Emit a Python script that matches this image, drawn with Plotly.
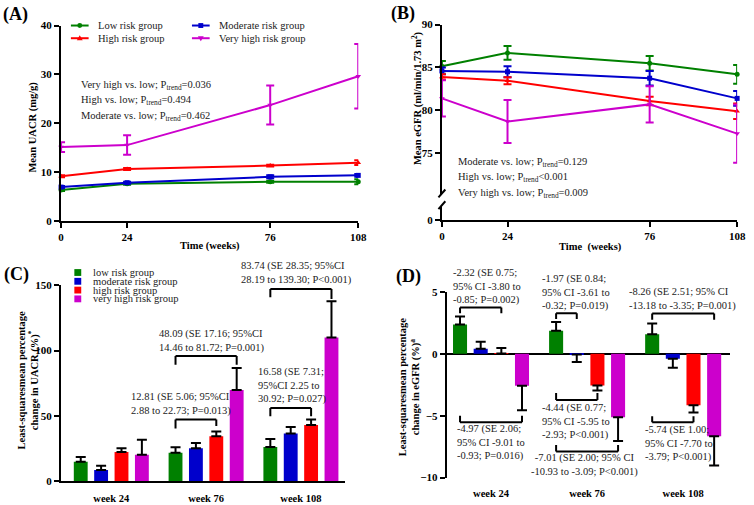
import plotly.graph_objects as go

W, H = 754, 505
FONT = "Liberation Serif"

# ---------------- data ----------------
weeks = [0, 24, 76, 108]
group_names = ["Low risk group", "Moderate risk group", "High risk group", "Very high risk group"]
group_names_lc = ["low risk group", "moderate risk group", "high risk group", "very high risk group"]
colors = ["#008000", "#0000cc", "#ff0000", "#cc00cc"]
symbols = ["circle", "square", "triangle-up", "triangle-down"]

# Panel A: mean UACR (mg/g)
uacr_low = [6.3, 7.6, 8.0, 8.0]
uacr_mod = [6.9, 7.8, 9.0, 9.3]
uacr_high = [9.1, 10.6, 11.3, 11.9]
uacr_vhigh = [15.1, 15.5, 23.7, 29.6]
uacr_low_err = [0.2, 0.2, 0.2, 0.5]
uacr_mod_err = [0.2, 0.2, 0.3, 0.3]
uacr_high_err = [0.2, 0.2, 0.2, 0.5]
uacr_vhigh_err = [1.0, 2.0, 4.0, 6.6]

# Panel B: mean eGFR
egfr_low = [85.15, 86.7, 85.5, 84.2]
egfr_mod = [84.6, 84.5, 83.75, 81.4]
egfr_high = [83.9, 83.45, 81.1, 79.9]
egfr_vhigh = [81.4, 78.7, 80.7, 77.3]
egfr_low_err = [0.6, 0.8, 0.85, 1.1]
egfr_mod_err = [0.4, 0.65, 0.85, 0.85]
egfr_high_err = [0.3, 0.4, 0.5, 0.9]
egfr_vhigh_err = [2.1, 2.5, 2.1, 3.4]

# Panel C: LS mean % change in UACR
visits = ["week 24", "week 76", "week 108"]
duacr_low = [15.0, 21.9, 26.4]
duacr_mod = [8.7, 25.4, 36.6]
duacr_high = [22.4, 34.6, 43.1]
duacr_vhigh = [20.4, 69.8, 110.1]
duacr_low_err = [3.7, 4.3, 6.0]
duacr_mod_err = [3.3, 4.0, 5.0]
duacr_high_err = [3.0, 3.5, 4.2]
duacr_vhigh_err = [11.5, 16.9, 27.7]

# Panel D: LS mean % change in eGFR
degfr_low = [2.37, 1.87, 1.58]
degfr_mod = [0.42, -0.05, -0.39]
degfr_high = [0.03, -2.55, -4.16]
degfr_vhigh = [-2.58, -5.13, -6.66]
degfr_low_err = [0.66, 0.71, 0.87]
degfr_mod_err = [0.55, 0.61, 0.74]
degfr_high_err = [0.45, 0.42, 0.58]
degfr_vhigh_err = [1.97, 1.92, 2.37]

# comparison labels
A_texts = ["Very high vs. low; P<sub>trend</sub>=0.036",
           "High vs. low; P<sub>trend</sub>=0.494",
           "Moderate vs. low; P<sub>trend</sub>=0.462"]
B_texts = ["Moderate vs. low; P<sub>trend</sub>=0.129",
           "High vs. low; P<sub>trend</sub><0.001",
           "Very high vs. low; P<sub>trend</sub>=0.009"]

# ---------------- helpers ----------------
def px(x):
    return x / W

def py(y):
    return 1 - y / H

BARGAP = 0.14
NG = 4
SLOT = (1 - BARGAP) / NG

def barx(cat, i):
    return cat + (i - (NG - 1) / 2) * SLOT

fig = go.Figure()

# ---------------- Panel A ----------------
A_series = [(uacr_low, uacr_low_err), (uacr_mod, uacr_mod_err),
            (uacr_high, uacr_high_err), (uacr_vhigh, uacr_vhigh_err)]
for k, (vals, err) in enumerate(A_series):
    fig.add_trace(go.Scatter(
        x=weeks, y=vals, mode="lines+markers", xaxis="x", yaxis="y",
        line=dict(color=colors[k], width=2),
        marker=dict(color=colors[k], size=5, symbol=symbols[k]),
        error_y=dict(type="data", array=err, color=colors[k], thickness=2, width=4),
        cliponaxis=False, showlegend=False, name=group_names[k]))

# ---------------- Panel B ----------------
B_series = [(egfr_low, egfr_low_err), (egfr_mod, egfr_mod_err),
            (egfr_high, egfr_high_err), (egfr_vhigh, egfr_vhigh_err)]
for k, (vals, err) in enumerate(B_series):
    fig.add_trace(go.Scatter(
        x=weeks, y=vals, mode="lines+markers", xaxis="x2", yaxis="y2",
        line=dict(color=colors[k], width=2),
        marker=dict(color=colors[k], size=5, symbol=symbols[k]),
        error_y=dict(type="data", array=err, color=colors[k], thickness=2, width=4),
        cliponaxis=False, showlegend=False, name=group_names[k]))
fig.add_trace(go.Scatter(x=[], y=[], xaxis="x2", yaxis="y3", showlegend=False))

# ---------------- Panel C ----------------
C_series = [(duacr_low, duacr_low_err), (duacr_mod, duacr_mod_err),
            (duacr_high, duacr_high_err), (duacr_vhigh, duacr_vhigh_err)]
for k, (vals, err) in enumerate(C_series):
    fig.add_trace(go.Bar(
        x=visits, y=vals, xaxis="x3", yaxis="y4",
        marker=dict(color=colors[k], line=dict(width=0)),
        error_y=dict(type="data", symmetric=False, array=err, arrayminus=[0] * len(err),
                     color="black", thickness=2, width=5),
        showlegend=False, name=group_names_lc[k]))

# ---------------- Panel D ----------------
D_series = [(degfr_low, degfr_low_err), (degfr_mod, degfr_mod_err),
            (degfr_high, degfr_high_err), (degfr_vhigh, degfr_vhigh_err)]
for k, (vals, err) in enumerate(D_series):
    up = [e if v >= 0 else 0 for v, e in zip(vals, err)]
    dn = [e if v < 0 else 0 for v, e in zip(vals, err)]
    fig.add_trace(go.Bar(
        x=visits, y=vals, xaxis="x4", yaxis="y5",
        marker=dict(color=colors[k], line=dict(width=0)),
        error_y=dict(type="data", symmetric=False, array=up, arrayminus=dn,
                     color="black", thickness=2, width=5),
        showlegend=False, name=group_names_lc[k]))

# ---------------- axes ----------------
tickfont = dict(family=FONT, size=11, color="black", weight="bold")
common = dict(showline=True, linewidth=2, linecolor="black", ticks="outside",
              ticklen=5, tickwidth=2, tickcolor="black", showgrid=False,
              zeroline=False, tickfont=tickfont, fixedrange=True)

fig.update_layout(
    width=W, height=H, margin=dict(l=0, r=0, t=0, b=0),
    paper_bgcolor="white", plot_bgcolor="white",
    barmode="group", bargap=BARGAP, bargroupgap=0.32,
    font=dict(family=FONT, color="black"),
    xaxis=dict(domain=[px(59), px(361)], range=[0, 108], tickvals=weeks, anchor="y", **common),
    yaxis=dict(domain=[py(220), py(20)], range=[0, 40], dtick=10, anchor="x", **common),
    xaxis2=dict(domain=[px(446), px(746)], range=[0, 108], tickvals=weeks, anchor="y3", **common),
    yaxis2=dict(domain=[py(194), py(19)], range=[70.1, 90], tickvals=[75, 80, 85, 90], anchor="x2", **common),
    yaxis3=dict(domain=[py(219), py(205)], range=[0, 1], tickvals=[0], anchor="x2", **common),
    xaxis3=dict(domain=[px(59), px(348)], type="category", range=[-0.53, 2.47], anchor="y4",
                showline=True, linewidth=2, linecolor="black", ticks="", showgrid=False,
                tickfont=dict(family=FONT, size=10.5, color="black", weight="bold"),
                ticklabelstandoff=6, fixedrange=True),
    yaxis4=dict(domain=[py(487), py(286)], range=[0, 150], dtick=50, anchor="x3", **common),
    xaxis4=dict(domain=[px(451), px(739)], type="category", range=[-0.46, 2.49], anchor="y5",
                showline=False, ticks="", showgrid=False,
                tickfont=dict(family=FONT, size=10.5, color="black", weight="bold"),
                ticklabelstandoff=8, fixedrange=True),
    yaxis5=dict(domain=[py(483), py(293)], range=[-10, 5], dtick=5, anchor="x4",
                showline=True, linewidth=2, linecolor="black", ticks="outside",
                ticklen=5, tickwidth=2, tickcolor="black", showgrid=False,
                zeroline=True, zerolinewidth=2, zerolinecolor="black",
                tickfont=tickfont, fixedrange=True),
)

annotations = []
shapes = []

def ann(text, x, y, size=10.5, bold=False, xanchor="center", yanchor="middle",
        angle=0, color="#222", align="left"):
    annotations.append(dict(
        text=text, x=px(x), y=py(y), xref="paper", yref="paper",
        xanchor=xanchor, yanchor=yanchor, showarrow=False, textangle=angle,
        align=align,
        font=dict(family=FONT, size=size, color=color, weight="bold" if bold else "normal")))

# panel labels
ann("(A)", 13, 9, size=18, bold=True, color="black")
ann("(B)", 406, 8, size=18, bold=True, color="black")
ann("(C)", 14, 275, size=18, bold=True, color="black")
ann("(D)", 412, 277, size=18, bold=True, color="black")

# axis titles
ann("Mean UACR (mg/g)", 31, 124, size=10.5, bold=True, angle=-90, color="black")
ann("Mean eGFR (ml/min/1.73 m<sup>2</sup>)", 420, 94, size=10.5, bold=True, angle=-90, color="black")
ann("Time (weeks)", 210, 246, size=10.5, bold=True, color="black")
ann("Time  (weeks)", 597, 247, size=10.5, bold=True, color="black")
ann("Least-squaresmean percentage<br>change in UACR (%)<sup>*</sup>", 26, 384, size=10.5,
    bold=True, angle=-90, color="black", align="center")
ann("Least-squaresmean percentage<br>change in eGFR (%)<sup>a</sup>", 413, 390, size=10.5,
    bold=True, angle=-90, color="black", align="center")

# trend texts
for t, yy in zip(A_texts, [81, 97, 113]):
    ann(t, 77, yy, size=10.5, xanchor="left")
for t, yy in zip(B_texts, [160, 176, 192]):
    ann(t, 460, yy, size=10.5, xanchor="left")

# legend A (manual, two columns)
legA_pos = [(69, 20), (192, 20), (69, 33), (192, 33)]
for k, (lx, ly) in enumerate(legA_pos):
    shapes.append(dict(type="line", xref="paper", yref="paper",
                       x0=px(lx), x1=px(lx + 18), y0=py(ly), y1=py(ly),
                       line=dict(color=colors[k], width=2)))
    cx, r = lx + 9, 2.5
    if symbols[k] == "circle":
        shapes.append(dict(type="circle", xref="paper", yref="paper",
                           x0=px(cx - r), x1=px(cx + r), y0=py(ly + r), y1=py(ly - r),
                           fillcolor=colors[k], line=dict(width=0)))
    elif symbols[k] == "square":
        shapes.append(dict(type="rect", xref="paper", yref="paper",
                           x0=px(cx - r), x1=px(cx + r), y0=py(ly + r), y1=py(ly - r),
                           fillcolor=colors[k], line=dict(width=0)))
    else:
        s = -1 if symbols[k] == "triangle-up" else 1
        path = (f"M{px(cx - 3)},{py(ly - s * 2)} L{px(cx + 3)},{py(ly - s * 2)} "
                f"L{px(cx)},{py(ly + s * 3)} Z")
        shapes.append(dict(type="path", xref="paper", yref="paper", path=path,
                           fillcolor=colors[k], line=dict(width=0)))
    ann(group_names[k], lx + 25, ly, size=10.5, xanchor="left", color="#222")

# legend C (manual, squares)
for k, ly in enumerate([273, 282, 291, 300]):
    shapes.append(dict(type="rect", xref="paper", yref="paper",
                       x0=px(72.5), x1=px(79.5), y0=py(ly + 3.5), y1=py(ly - 3.5),
                       fillcolor=colors[k], line=dict(width=0)))
    ann(group_names_lc[k], 89, ly, size=10.5, xanchor="left", color="#222")

# B axis break marks
for y0 in [196, 208]:
    shapes.append(dict(type="line", xref="paper", yref="paper",
                       x0=px(442.5), x1=px(449.5), y0=py(y0), y1=py(y0 - 8),
                       line=dict(color="black", width=2)))

# brackets
def bracket(xref, yref, cat, i, j, level, leg_l, leg_r):
    xl, xr = barx(cat, i), barx(cat, j)
    for (a0, a1, b0, b1) in [(xl, xl, leg_l, level), (xl, xr, level, level), (xr, xr, level, leg_r)]:
        shapes.append(dict(type="line", xref=xref, yref=yref, x0=a0, x1=a1, y0=b0, y1=b1,
                           line=dict(color="black", width=2)))

bracket("x3", "y4", 1, 0, 2, 47.3, 40.4, 42.4)
bracket("x3", "y4", 1, 0, 3, 95.9, 89.2, 89.2)
bracket("x3", "y4", 2, 0, 2, 56.1, 49.8, 49.8)
bracket("x3", "y4", 2, 0, 3, 147.0, 140.8, 139.5)

bracket("x4", "y5", 0, 0, 2, 3.74, 3.29, 3.29)
bracket("x4", "y5", 1, 0, 1, 3.29, 2.82, 2.82)
bracket("x4", "y5", 2, 0, 3, 3.26, 2.76, 2.76)
bracket("x4", "y5", 0, 0, 3, -5.53, -5.0, -5.0)
bracket("x4", "y5", 1, 0, 2, -3.74, -3.16, -3.16)
bracket("x4", "y5", 1, 0, 3, -7.89, -7.37, -7.37)
bracket("x4", "y5", 2, 0, 2, -5.53, -5.05, -5.05)

# comparison texts C
ann("12.81 (SE 5.06; 95%CI<br>2.88 to 22.73; P=0.013)", 128, 408, xanchor="left")
ann("48.09 (SE 17.16; 95%CI<br>14.46 to 81.72; P=0.001)", 156, 343, xanchor="left")
ann("16.58 (SE 7.31;<br>95%CI 2.25 to<br>30.92; P=0.027)", 257, 389, xanchor="left")
ann("83.74 (SE 28.35; 95%CI<br>28.19 to 139.30; P<0.001)", 240, 274, xanchor="left")

# comparison texts D
ann("-2.32 (SE 0.75;<br>95% CI -3.80 to<br>-0.85; P=0.002)", 455, 287, xanchor="left")
ann("-1.97 (SE 0.84;<br>95% CI -3.61 to<br>-0.32; P=0.019)", 546, 293, xanchor="left")
ann("-8.26 (SE 2.51; 95% CI<br>-13.18 to -3.35; P=0.001)", 634, 300, xanchor="left")
ann("-4.97 (SE 2.06;<br>95% CI -9.01 to<br>-0.93; P=0.016)", 459, 447, xanchor="left")
ann("-4.44 (SE 0.77;<br>95% CI -5.95 to<br>-2.93; P<0.001)", 546, 426, xanchor="left")
ann("-7.01 (SE 2.00; 95% CI<br>-10.93 to -3.09; P<0.001)", 591, 470, xanchor="center", align="center")
ann("-5.74 (SE 1.00;<br>95% CI -7.70 to<br>-3.79; P<0.001)", 650, 448, xanchor="left")

fig.update_layout(annotations=annotations, shapes=shapes)
fig.write_html("out.html")
